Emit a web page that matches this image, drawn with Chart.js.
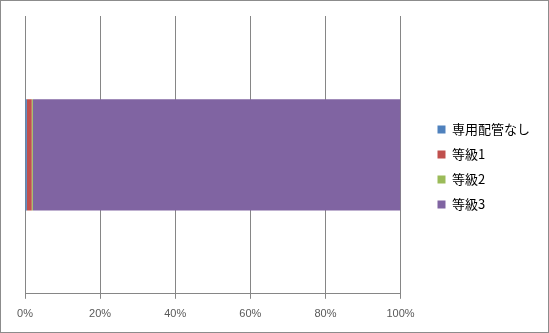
<!DOCTYPE html>
<html>
<head>
<meta charset="utf-8">
<script src="https://cdn.jsdelivr.net/npm/chart.js@4/dist/chart.umd.min.js"></script>
<style>
  html, body { margin: 0; padding: 0; background: #fff; }
  #wrap { width: 549px; height: 333px; box-sizing: border-box; border: 1px solid #8c8c8c; position: relative; }
  #chart { display: block; }
</style>
</head>
<body>
<div id="wrap"><canvas id="chart" width="547" height="331"></canvas></div>
<script>
// single 100% stacked bar
const categories = [''];
const seriesNames = ['専用配管なし', '等級1', '等級2', '等級3'];
const seriesColors = ['#4F81BD', '#C0504D', '#9BBB59', '#8064A2'];
const values = [
    [0.5],
    [1.3],
    [0.3],
    [97.9]
];
const tickLabels = ['0%', '20%', '40%', '60%', '80%', '100%'];

const gridColor = '#868686';
const legendGap = 25;
const legendLift = 6;

// widen the legend box and push its items right, leaving space next to the plot
const legendSpacer = {
    id: 'legendSpacer',
    beforeInit(chart) {
        const legend = chart.legend;
        const fit = legend.fit;
        legend.fit = function () {
            fit.call(this);
            this.width += legendGap;
        };
    },
    afterLayout(chart) {
        chart.legend.left += legendGap;
        chart.legend.top -= legendLift;
        chart.legend.bottom -= legendLift;
    }
};

new Chart(document.getElementById('chart'), {
    type: 'bar',
    data: {
        labels: categories,
        datasets: seriesNames.map((name, i) => ({
            label: name,
            data: values[i],
            backgroundColor: seriesColors[i],
            borderWidth: 0,
            categoryPercentage: 1,
            barPercentage: 0.4
        }))
    },
    options: {
        indexAxis: 'y',
        responsive: false,
        animation: false,
        layout: { padding: { left: 24, top: 15, right: 8, bottom: 2 } },
        scales: {
            x: {
                stacked: true,
                min: 0,
                max: 100,
                ticks: {
                    stepSize: 20,
                    color: '#595959',
                    font: { family: 'Liberation Sans', size: 11 },
                    padding: 9,
                    callback: (v, i) => tickLabels[i]
                },
                grid: { color: gridColor, tickLength: 5, drawTicks: true },
                border: { color: gridColor }
            },
            y: {
                stacked: true,
                ticks: { display: false },
                grid: { display: false },
                border: { color: gridColor },
                afterFit: s => { s.width = 0; }
            }
        },
        plugins: {
            tooltip: { enabled: false },
            legend: {
                position: 'right',
                align: 'center',
                labels: {
                    boxWidth: 8,
                    boxHeight: 8,
                    padding: 12,
                    color: '#000',
                    font: { family: 'Noto Sans CJK JP', size: 13 }
                }
            }
        }
    },
    plugins: [legendSpacer]
});
</script>
</body>
</html>
